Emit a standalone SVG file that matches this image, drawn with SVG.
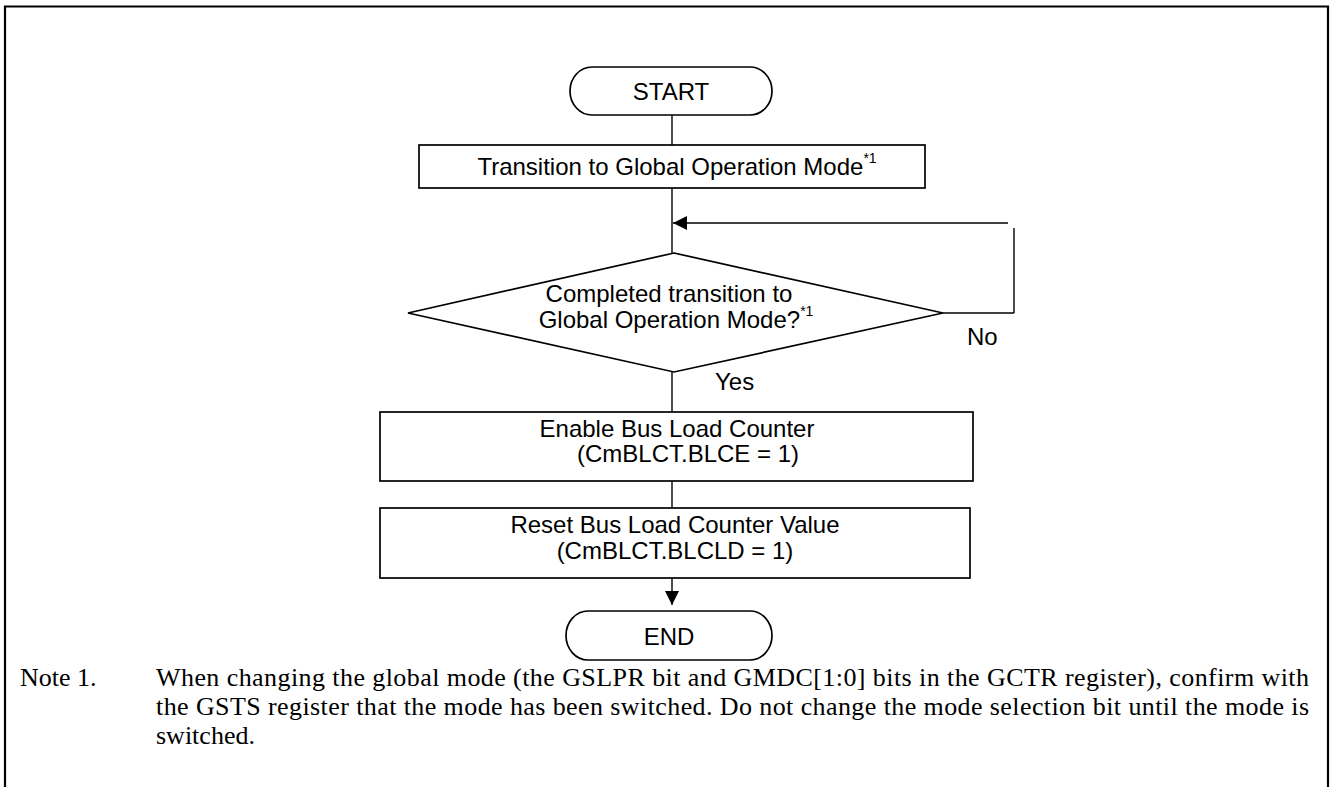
<svg xmlns="http://www.w3.org/2000/svg" width="1333" height="787" viewBox="0 0 1333 787">
<defs>
<style>
.shape{fill:#fff;stroke:#000;stroke-width:1.7}
.line{fill:none;stroke:#000;stroke-width:1.4}
.t{font-family:"Liberation Sans",Arial,sans-serif;font-size:24px;fill:#000;text-anchor:middle}
.lbl{font-family:"Liberation Sans",Arial,sans-serif;font-size:24px;fill:#000}
.sup{font-size:14px}
.note{font-family:"Liberation Serif","Times New Roman",serif;font-size:26px;fill:#000}
</style>
<marker id="arr" viewBox="0 0 14 14" refX="14" refY="7" markerWidth="14" markerHeight="14" markerUnits="userSpaceOnUse" orient="auto">
<path d="M0,0 L14,7 L0,14 Z" fill="#000"/>
</marker>
</defs>
<rect width="1333" height="787" fill="#fff"/>
<path d="M5,787 V6.5 H1328 V787" fill="none" stroke="#000" stroke-width="2.2"/>
<g id="connectors">
<line class="line" x1="672" y1="115" x2="672" y2="145"/>
<line class="line" x1="672" y1="188" x2="672" y2="253"/>
<line class="line" x1="1008" y1="223" x2="673" y2="223" marker-end="url(#arr)"/>
<line class="line" x1="1014" y1="228" x2="1014" y2="313"/>
<line class="line" x1="943" y1="313" x2="1014" y2="313"/>
<line class="line" x1="672" y1="372" x2="672" y2="412"/>
<line class="line" x1="672" y1="481" x2="672" y2="508"/>
<line class="line" x1="672" y1="578" x2="672" y2="605" marker-end="url(#arr)"/>
<text class="lbl" x="967" y="345">No</text>
<text class="lbl" x="715" y="390">Yes</text>
</g>
<g id="start">
<rect class="shape" x="570" y="67" width="202" height="48" rx="22" ry="24"/>
<text class="t" x="671" y="100">START</text>
</g>
<g id="transition">
<rect class="shape" x="419" y="145" width="506" height="43"/>
<text class="t" x="677" y="175">Transition to Global Operation Mode<tspan class="sup" dy="-12">*1</tspan></text>
</g>
<g id="decision">
<polygon class="shape" points="674,253 943,313 674,372 408,313"/>
<text class="t" x="669" y="302">Completed transition to</text>
<text class="t" x="676" y="328">Global Operation Mode?<tspan class="sup" dy="-12">*1</tspan></text>
</g>
<g id="enable">
<rect class="shape" x="380" y="412" width="593" height="69"/>
<text class="t" x="677" y="437">Enable Bus Load Counter</text>
<text class="t" x="688" y="462">(CmBLCT.BLCE = 1)</text>
</g>
<g id="reset">
<rect class="shape" x="380" y="508" width="590" height="70"/>
<text class="t" x="675" y="533">Reset Bus Load Counter Value</text>
<text class="t" x="675" y="559">(CmBLCT.BLCLD = 1)</text>
</g>
<g id="end">
<rect class="shape" x="566" y="611" width="206" height="49" rx="22" ry="24.5"/>
<text class="t" x="669" y="645">END</text>
</g>
<g id="note">
<text class="note" x="20" y="686">Note 1.</text>
<text class="note" x="156" y="686" textLength="1153" lengthAdjust="spacing">When changing the global mode (the GSLPR bit and GMDC[1:0] bits in the GCTR register), confirm with</text>
<text class="note" x="156" y="715" textLength="1153" lengthAdjust="spacing">the GSTS register that the mode has been switched. Do not change the mode selection bit until the mode is</text>
<text class="note" x="156" y="744">switched.</text>
</g>
</svg>
